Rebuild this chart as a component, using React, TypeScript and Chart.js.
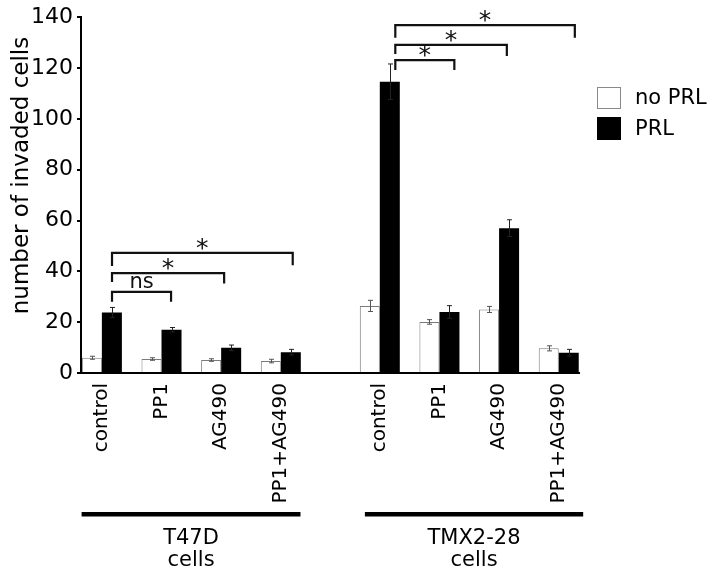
import React, { useEffect, useRef } from 'react';
import { Chart, registerables } from 'chart.js';

Chart.register(...registerables);

// ---------- data ----------
const TREATMENTS = ['control', 'PP1', 'AG490', 'PP1+AG490'];
const CELL_LINES = [['T47D', 'cells'], ['TMX2-28', 'cells']];
const SERIES = ['no PRL', 'PRL'];
const Y_TICKS = [0, 20, 40, 60, 80, 100, 120, 140];

const NO_PRL_T47D = [6.0, 5.5, 5.1, 4.7];
const NO_PRL_T47D_ERR = [0.6, 0.5, 0.5, 0.7];
const PRL_T47D = [23.8, 17.0, 9.9, 8.2];
const PRL_T47D_ERR = [2.0, 0.9, 1.1, 1.1];

const NO_PRL_TMX = [26.4, 20.1, 25.0, 9.7];
const NO_PRL_TMX_ERR = [2.2, 0.9, 1.2, 1.0];
const PRL_TMX = [114.6, 24.0, 57.0, 8.0];
const PRL_TMX_ERR = [7.0, 2.5, 3.3, 1.3];

// significance brackets (levels in data units)
const BRACKET_GROUPS = [0, 0, 0, 1, 1, 1];
const BRACKET_FROM = [0, 0, 0, 0, 0, 0];
const BRACKET_TO = [1, 2, 3, 1, 2, 3];
const BRACKET_LEVEL = [31.9, 39.3, 47.3, 123.1, 129.1, 136.9];
const BRACKET_DROP_FROM = [28.0, 35.8, 42.1, 119.2, 125.5, 131.9];
const BRACKET_DROP_TO = [28.0, 35.2, 42.4, 119.2, 124.7, 131.9];
const BRACKET_LABELS = ['ns', '*', '*', '*', '*', '*'];

// ---------- layout constants ----------
const GROUP_STRIDE = 4.66;
const BRACKET_X_OFF: number[][] = [
  [0.17, 0.16], [0.17, 0.05], [0.17, 0.2],
  [0.26, 0.25], [0.26, 0.13], [0.26, 0.27],
];
const GROUP_LINE_EXT: number[][] = [[0.34, 0.33], [0.25, 0.41]];
const FONT = "'DejaVu Sans', Verdana, sans-serif";

const positions: number[] = [];
const tickLabels: string[] = [];
CELL_LINES.forEach((_, g) => {
  TREATMENTS.forEach((t, i) => {
    positions.push(g * GROUP_STRIDE + i);
    tickLabels.push(t);
  });
});

const NO_PRL = [...NO_PRL_T47D, ...NO_PRL_TMX];
const NO_PRL_ERR = [...NO_PRL_T47D_ERR, ...NO_PRL_TMX_ERR];
const PRL = [...PRL_T47D, ...PRL_TMX];
const PRL_ERR = [...PRL_T47D_ERR, ...PRL_TMX_ERR];
const VALUES = [NO_PRL, PRL];
const ERRORS = [NO_PRL_ERR, PRL_ERR];

const posOf = (g: number, i: number) => g * GROUP_STRIDE + i;

const annotations = {
  id: 'annotations',
  afterDatasetsDraw(chart: any) {
    const { ctx } = chart;
    const ys = chart.scales.y;
    ERRORS.forEach((errs, d) => {
      const meta = chart.getDatasetMeta(d);
      meta.data.forEach((el: any, i: number) => {
        const v = VALUES[d][i];
        const e = errs[i];
        const top = ys.getPixelForValue(v + e);
        const bot = ys.getPixelForValue(v - e);
        const cx = Math.round(el.x) + 0.5;
        ctx.save();
        ctx.strokeStyle = d === 0 ? '#555' : '#222';
        ctx.lineWidth = 1;
        ctx.beginPath();
        ctx.moveTo(cx, top);
        ctx.lineTo(cx, bot);
        ctx.moveTo(cx - 2.5, top);
        ctx.lineTo(cx + 2.5, top);
        ctx.moveTo(cx - 2.5, bot);
        ctx.lineTo(cx + 2.5, bot);
        ctx.stroke();
        ctx.restore();
      });
    });
  },
  afterDraw(chart: any) {
    const { ctx, chartArea } = chart;
    const xs = chart.scales.x;
    const ys = chart.scales.y;
    ctx.save();
    // brackets
    BRACKET_LEVEL.forEach((lvl, k) => {
      const g = BRACKET_GROUPS[k];
      const x1 = xs.getPixelForValue(posOf(g, BRACKET_FROM[k]) + BRACKET_X_OFF[k][0]);
      const x2 = xs.getPixelForValue(posOf(g, BRACKET_TO[k]) + BRACKET_X_OFF[k][1]);
      const y = ys.getPixelForValue(lvl);
      const yl = ys.getPixelForValue(BRACKET_DROP_FROM[k]);
      const yr = ys.getPixelForValue(BRACKET_DROP_TO[k]);
      ctx.strokeStyle = '#111';
      ctx.lineWidth = 2.2;
      ctx.lineCap = 'butt';
      ctx.beginPath();
      ctx.moveTo(x1, yl);
      ctx.lineTo(x1, y);
      ctx.lineTo(x2, y);
      ctx.lineTo(x2, yr);
      ctx.stroke();
      const label = BRACKET_LABELS[k];
      ctx.fillStyle = '#111';
      ctx.textAlign = 'center';
      ctx.textBaseline = 'alphabetic';
      if (label === '*') {
        ctx.font = `25px ${FONT}`;
        ctx.fillText(label, (x1 + x2) / 2, y + 3);
      } else {
        ctx.font = `21px ${FONT}`;
        ctx.fillText(label, (x1 + x2) / 2, y - 4);
      }
    });

    // legend
    const lx = chartArea.right + 18;
    const boxes = [[87, 22], [117, 23]];
    SERIES.forEach((name, d) => {
      const ds = chart.data.datasets[d];
      const [by, bh] = boxes[d];
      ctx.fillStyle = ds.backgroundColor;
      ctx.fillRect(lx, by, 24, bh);
      if (d === 0) {
        ctx.strokeStyle = '#888';
        ctx.lineWidth = 1;
        ctx.strokeRect(lx + 0.5, by + 0.5, 23, bh - 1);
      }
      ctx.fillStyle = '#000';
      ctx.font = `21px ${FONT}`;
      ctx.textAlign = 'left';
      ctx.textBaseline = 'middle';
      ctx.fillText(name, lx + 38, by + bh / 2 + 1);
    });

    // group lines + labels
    CELL_LINES.forEach((lines, g) => {
      const xa = xs.getPixelForValue(posOf(g, 0) - GROUP_LINE_EXT[g][0]);
      const xb = xs.getPixelForValue(posOf(g, TREATMENTS.length - 1) + GROUP_LINE_EXT[g][1]);
      ctx.fillStyle = '#000';
      ctx.fillRect(xa, 512, xb - xa, 4.5);
      ctx.font = `21px ${FONT}`;
      ctx.textAlign = 'center';
      ctx.textBaseline = 'alphabetic';
      lines.forEach((t, j) => {
        ctx.fillText(t, (xa + xb) / 2, 544 + j * 22);
      });
    });

    // y title
    ctx.translate(28, 175.5);
    ctx.rotate(-Math.PI / 2);
    ctx.font = `23px ${FONT}`;
    ctx.fillStyle = '#000';
    ctx.textAlign = 'center';
    ctx.textBaseline = 'alphabetic';
    ctx.fillText('number of invaded cells', 0, 0);
    ctx.restore();
  },
};

export default function App() {
  const ref = useRef<HTMLCanvasElement>(null);
  useEffect(() => {
    if (!ref.current) return;
    const chart = new Chart(ref.current, {
      type: 'bar',
      data: {
        datasets: [
          {
            label: SERIES[0],
            data: NO_PRL.map((y, k) => ({ x: positions[k], y })),
            backgroundColor: '#ffffff',
            borderColor: '#7a7a7a',
            borderWidth: 1,
            barPercentage: 1,
            categoryPercentage: 0.671,
          },
          {
            label: SERIES[1],
            data: PRL.map((y, k) => ({ x: positions[k], y })),
            backgroundColor: '#000000',
            borderWidth: 0,
            barPercentage: 1,
            categoryPercentage: 0.671,
          },
        ] as any,
      },
      options: {
        animation: false,
        responsive: false,
        maintainAspectRatio: false,
        layout: { padding: { top: 16, right: 135, bottom: 0, left: 0 } },
        plugins: { legend: { display: false }, tooltip: { enabled: false } },
        scales: {
          x: {
            type: 'linear',
            min: -0.35,
            max: 8.0,
            offset: false,
            grid: { display: false, drawTicks: false },
            border: { display: true, color: '#000', width: 2 },
            afterBuildTicks: (scale: any) => {
              scale.ticks = positions.map((v) => ({ value: v }));
            },
            afterFit: (scale: any) => {
              scale.height = 200;
            },
            ticks: {
              autoSkip: false,
              minRotation: 90,
              maxRotation: 90,
              padding: 10,
              color: '#000',
              font: { family: FONT, size: 20 },
              callback: (_v: any, i: number) => tickLabels[i],
            },
          },
          y: {
            min: 0,
            max: 140,
            grid: {
              display: true,
              drawOnChartArea: false,
              drawTicks: true,
              tickLength: 4,
              color: '#000',
              lineWidth: 2,
            },
            border: { display: true, color: '#000', width: 2 },
            afterBuildTicks: (scale: any) => {
              scale.ticks = Y_TICKS.map((v) => ({ value: v }));
            },
            afterFit: (scale: any) => {
              scale.width = 81;
            },
            ticks: {
              padding: 4,
              color: '#000',
              font: { family: FONT, size: 22 },
            },
          },
        },
      } as any,
      plugins: [annotations],
    });
    return () => chart.destroy();
  }, []);
  return (
    <div style={{ position: 'absolute', left: 0, top: 0, width: 714, height: 573, background: '#fff' }}>
      <canvas ref={ref} width={714} height={573} style={{ display: 'block', width: 714, height: 573 }} />
    </div>
  );
}
